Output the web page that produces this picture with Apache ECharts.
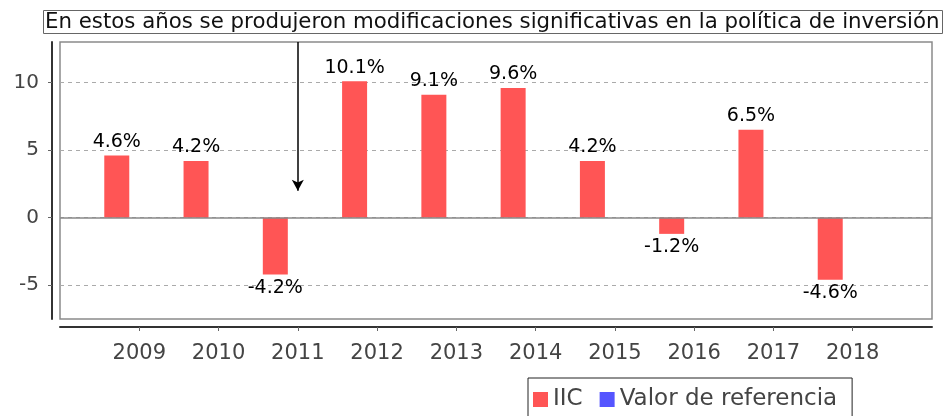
<!DOCTYPE html>
<html>
<head>
<meta charset="utf-8">
<script src="https://cdn.jsdelivr.net/npm/echarts@6/dist/echarts.min.js"></script>
<style>
  html, body { margin: 0; padding: 0; background: #fff; }
  #chart { width: 946px; height: 416px; }
</style>
</head>
<body>
<div id="chart"></div>
<script>
// data
const years = [2009, 2010, 2011, 2012, 2013, 2014, 2015, 2016, 2017, 2018];
const iicValues = [4.6, 4.2, -4.2, 10.1, 9.1, 9.6, 4.2, -1.2, 6.5, -4.6];
const refValues = []; // "Valor de referencia" has no bars drawn
const yTicks = [-5, 0, 5, 10];
const seriesNames = ['IIC', 'Valor de referencia'];

// annotation
const noteText = 'En estos años se produjeron modificaciones significativas en la política de inversión';
const noteYear = 2011;
const noteFrom = 13;
const noteTo = 2;

const font = 'DejaVu Sans';

const option = {
  backgroundColor: '#ffffff',
  animation: false,
  color: ['#ff5555', '#5555ff', '#000000'],
  title: {
    text: noteText,
    left: 43,
    top: 10,
    padding: [2, 3, 1, 2],
    borderColor: '#666',
    borderWidth: 1,
    textStyle: {
      fontFamily: font,
      fontSize: 21.3,
      fontWeight: 'normal',
      color: '#111'
    }
  },
  legend: {
    left: 528,
    top: 378,
    padding: [10, 15, 10, 5],
    itemGap: 17,
    itemWidth: 15,
    itemHeight: 15,
    icon: 'rect',
    borderColor: '#222',
    borderWidth: 1,
    textStyle: { fontFamily: font, fontSize: 23, color: '#444' },
    data: seriesNames
  },
  grid: {
    left: 60,
    right: 14,
    top: 42,
    bottom: 97,
    show: true,
    backgroundColor: '#fff',
    borderColor: '#8a8a8a',
    borderWidth: 1.5
  },
  xAxis: {
    type: 'value',
    min: 2008,
    max: 2019,
    interval: 1,
    offset: 8,
    axisLine: { show: true, onZero: false, lineStyle: { color: '#333', width: 2 } },
    axisTick: { show: true, customValues: years, length: 4, lineStyle: { color: '#666' } },
    axisLabel: {
      customValues: years,
      margin: 16,
      fontFamily: font,
      fontSize: 21,
      color: '#444',
      formatter: function (v) { return String(v); }
    },
    splitLine: { show: false }
  },
  yAxis: {
    type: 'value',
    min: -7.5,
    max: 13,
    offset: 8,
    axisLine: { show: true, onZero: false, lineStyle: { color: '#333', width: 2 } },
    axisTick: { show: true, customValues: yTicks, length: 4, lineStyle: { color: '#666' } },
    axisLabel: {
      customValues: yTicks,
      margin: 13,
      fontFamily: font,
      fontSize: 20,
      color: '#444'
    },
    splitLine: { show: true, lineStyle: { color: '#aaa', width: 1, type: [4, 4] } }
  },
  series: [{
    name: seriesNames[0],
    type: 'bar',
    barWidth: 25,
    barGap: '80%',
    data: years.map(function (y, i) {
      return {
        value: [y, iicValues[i]],
        label: { position: iicValues[i] < 0 ? 'bottom' : 'top' }
      };
    }),
    label: {
      show: true,
      distance: 4,
      fontFamily: font,
      fontSize: 19,
      color: '#000',
      formatter: function (p) { return p.value[1].toFixed(1) + '%'; }
    },
    markLine: {
      silent: true,
      symbol: 'none',
      label: { show: false },
      lineStyle: { color: '#888', width: 1.5, type: 'solid' },
      data: [{ yAxis: 0 }]
    }
  }, {
    name: seriesNames[1],
    type: 'bar',
    barWidth: 25,
    barGap: '80%',
    data: refValues
  }, {
    // holds only the annotation arrow, so it is not shifted like bar markers
    name: 'nota',
    type: 'line',
    data: [],
    markLine: {
      silent: true,
      symbol: ['none', 'arrow'],
      symbolSize: [9, 11],
      label: { show: false },
      lineStyle: { color: '#000', width: 1.5, type: 'solid' },
      data: [[{ coord: [noteYear, noteFrom] }, { coord: [noteYear, noteTo] }]]
    }
  }]
};

const chart = echarts.init(document.getElementById('chart'));
chart.setOption(option);
</script>
</body>
</html>
